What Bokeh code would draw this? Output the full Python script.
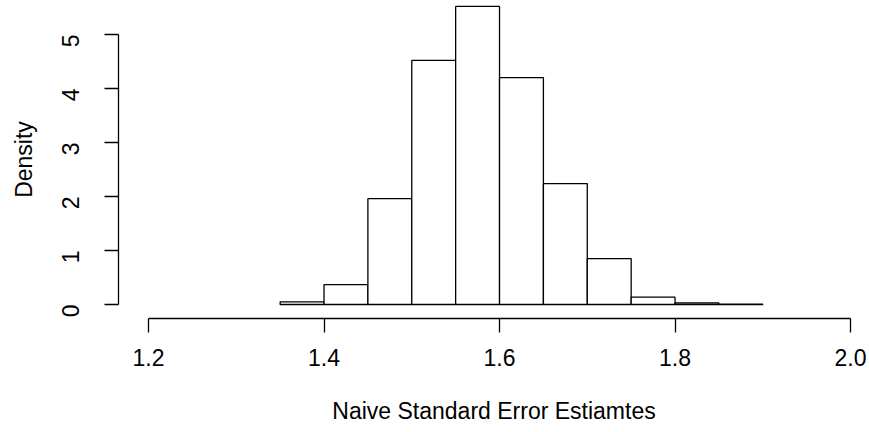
import math
from bokeh.plotting import figure
from bokeh.models import Range1d, FixedTicker
from bokeh.embed import file_html
from bokeh.resources import INLINE

# Histogram data (bin edges and densities)
bin_left = [1.35, 1.40, 1.45, 1.50, 1.55, 1.60, 1.65, 1.70, 1.75, 1.80, 1.85]
bin_right = [1.40, 1.45, 1.50, 1.55, 1.60, 1.65, 1.70, 1.75, 1.80, 1.85, 1.90]
density = [0.05, 0.37, 1.96, 4.52, 5.52, 4.20, 2.24, 0.85, 0.135, 0.03, 0.005]

x_ticks = [1.2, 1.4, 1.6, 1.8, 2.0]
x_tick_labels = ["1.2", "1.4", "1.6", "1.8", "2.0"]
y_ticks = [0, 1, 2, 3, 4, 5]
y_tick_labels = ["0", "1", "2", "3", "4", "5"]

FONT = "Liberation Sans"
FS = "23px"

p = figure(width=869, height=432,
           x_range=Range1d(1.1658, 2.0216), y_range=Range1d(-0.259, 5.63),
           output_backend="svg", toolbar_location=None,
           min_border_left=118, min_border_right=0,
           min_border_top=0, min_border_bottom=114)

p.quad(left=bin_left, right=bin_right, top=density, bottom=0,
       fill_color="white", line_color="black", line_width=1.3)

p.outline_line_color = None
p.xgrid.visible = False
p.ygrid.visible = False
p.background_fill_color = "white"
p.border_fill_color = "white"

for ax in (p.xaxis[0], p.yaxis[0]):
    ax.axis_line_color = "black"
    ax.axis_line_width = 1.3
    ax.major_tick_line_color = "black"
    ax.major_tick_line_width = 1.3
    ax.major_tick_in = 0
    ax.major_tick_out = 14
    ax.minor_tick_line_color = None
    ax.major_label_text_font = FONT
    ax.major_label_text_font_size = FS
    ax.major_label_text_color = "black"
    ax.axis_label_text_font = FONT
    ax.axis_label_text_font_size = FS
    ax.axis_label_text_font_style = "normal"
    ax.axis_label_text_color = "black"

xa = p.xaxis[0]
xa.ticker = FixedTicker(ticks=x_ticks)
xa.major_label_overrides = {t: l for t, l in zip(x_ticks, x_tick_labels)}
xa.bounds = (x_ticks[0], x_ticks[-1])
xa.axis_label = "Naive Standard Error Estiamtes"
xa.major_label_standoff = 16
xa.axis_label_standoff = 29

ya = p.yaxis[0]
ya.ticker = FixedTicker(ticks=y_ticks)
ya.major_label_overrides = {t: l for t, l in zip(y_ticks, y_tick_labels)}
ya.bounds = (y_ticks[0], y_ticks[-1])
ya.axis_label = "Density"
ya.major_label_orientation = math.pi / 2
ya.major_label_standoff = 34
ya.axis_label_standoff = 14

open("out.html", "w").write(file_html(p, INLINE))
